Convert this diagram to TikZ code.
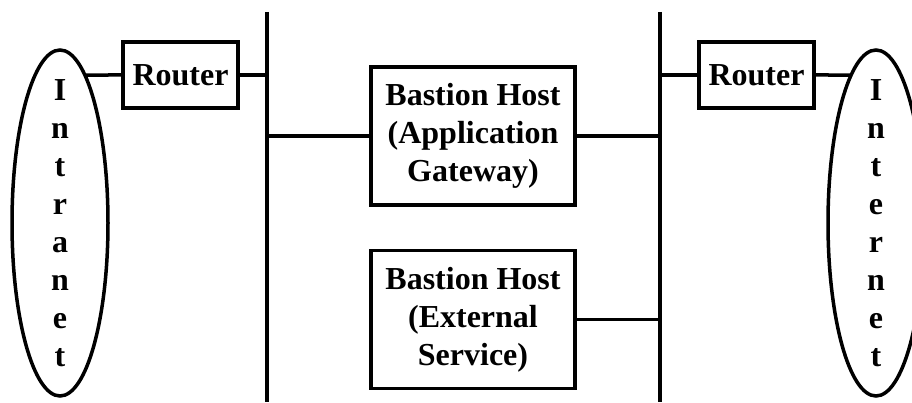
\documentclass[tikz,border=0pt]{standalone}
\usepackage{fontspec}
\setmainfont{Liberation Serif}
\usetikzlibrary{shapes.geometric,intersections}
\begin{document}
\begin{tikzpicture}[x=1pt,y=1pt,line width=3.5pt,
  txt/.style={font=\fontsize{32}{38}\selectfont\bfseries,align=center,inner sep=0pt},
  netoval/.style={draw,ellipse,inner sep=0pt,minimum width=96pt,minimum height=346pt},
  routerbox/.style={draw,txt,minimum width=115pt,minimum height=66pt},
  hostbox/.style={draw,txt,minimum width=204pt,minimum height=138pt}]
\useasboundingbox (0,0) rectangle (912,402);
% nodes
\node[netoval,name path=intrap] (intra) at (60,179) {};
\node[txt] (intratxt) at (intra.center) {I\\n\\t\\r\\a\\n\\e\\t};
\node[netoval,name path=interp] (inter) at (876,179) {};
\node[txt] (intertxt) at (inter.center) {I\\n\\t\\e\\r\\n\\e\\t};
\node[routerbox] (rl) at (180.5,327) {Router};
\node[routerbox] (rr) at (756.5,327) {Router};
\node[hostbox] (h1) at (473,266) {Bastion Host\\(Application\\Gateway)};
\node[hostbox] (h2) at (473,82.5) {Bastion Host\\(External\\Service)};
% buses
\coordinate (lbt) at (267,390);
\coordinate (lbb) at (267,0);
\coordinate (rbt) at (660,390);
\coordinate (rbb) at (660,0);
\draw (lbt) -- (lbb);
\draw (rbt) -- (rbb);
% connectors
\path[name path=lray] (rl.west) -- (rl.west -| intra.center);
\path[name path=rray] (rr.east) -- (rr.east -| inter.center);
\draw[name intersections={of=intrap and lray,by=li}] (li) -- (rl.west);
\draw (rl.east) -- (rl.east -| lbt);
\draw (h1.west -| lbt) -- (h1.west);
\draw (h1.east) -- (h1.east -| rbt);
\draw (h2.east) -- (h2.east -| rbt);
\draw (rr.west -| rbt) -- (rr.west);
\draw[name intersections={of=interp and rray,by=ri}] (rr.east) -- (ri);
\end{tikzpicture}
\end{document}
